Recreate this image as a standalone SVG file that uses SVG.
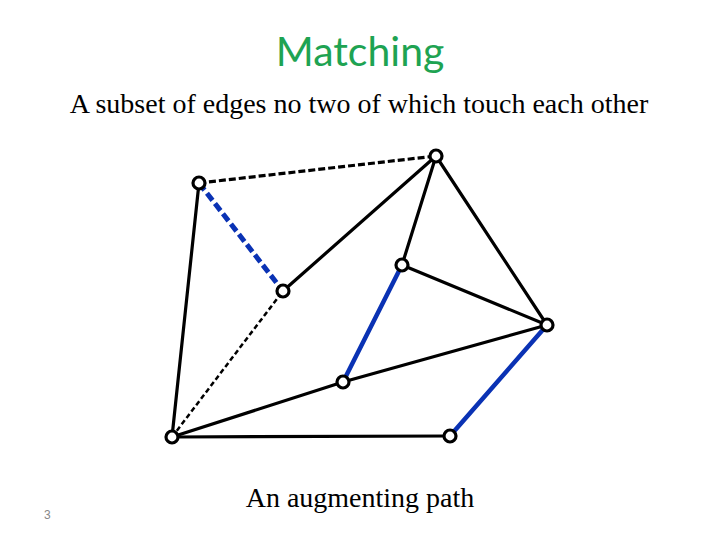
<svg xmlns="http://www.w3.org/2000/svg" width="720" height="540" viewBox="0 0 720 540">
<style>
.e{stroke:#000;stroke-width:3.2;fill:none;stroke-linecap:round}
.d{stroke-dasharray:7 3;stroke-linecap:butt}
.d2{stroke-dasharray:5 3;stroke-width:2.5;stroke-linecap:butt}
.b{stroke:#0a32b4;stroke-width:4.5}
.bd{stroke:#0a32b4;stroke-width:5;stroke-dasharray:9 4;stroke-linecap:butt}
.n{fill:#fff;stroke:#000;stroke-width:3.2}
.t{font-family:"Liberation Serif",serif;font-size:28px;fill:#000;text-anchor:middle}
</style>
<rect width="720" height="540" fill="#fff"/>
<text x="360" y="66" font-family="Lato,'Open Sans',sans-serif" font-size="41" fill="#1ea352" text-anchor="middle">Matching</text>
<text class="t" x="359" y="113">A subset of edges no two of which touch each other</text>
<text class="t" x="360" y="507">An augmenting path</text>
<text x="44" y="519" font-family="'Liberation Sans',sans-serif" font-size="12" fill="#888">3</text>
<g id="edges">
<line class="e d" x1="199" y1="183" x2="436" y2="156"/>
<line class="e bd" x1="199" y1="183" x2="283" y2="291"/>
<line class="e" x1="199" y1="183" x2="172" y2="437"/>
<line class="e" x1="436" y1="156" x2="283" y2="291"/>
<line class="e" x1="436" y1="156" x2="402" y2="265"/>
<line class="e" x1="436" y1="156" x2="547" y2="325"/>
<line class="e" x1="402" y1="265" x2="547" y2="325"/>
<line class="e b" x1="402" y1="265" x2="343" y2="382"/>
<line class="e" x1="343" y1="382" x2="547" y2="325"/>
<line class="e" x1="172" y1="437" x2="343" y2="382"/>
<line class="e d2" x1="172" y1="437" x2="283" y2="291"/>
<line class="e" x1="172" y1="437" x2="450" y2="436"/>
<line class="e b" x1="547" y1="325" x2="450" y2="436"/>
</g>
<g id="nA"><circle class="n" cx="199" cy="183" r="6"/></g>
<g id="nB"><circle class="n" cx="436" cy="156" r="6"/></g>
<g id="nC"><circle class="n" cx="283" cy="291" r="6"/></g>
<g id="nD"><circle class="n" cx="402" cy="265" r="6"/></g>
<g id="nE"><circle class="n" cx="547" cy="325" r="6"/></g>
<g id="nF"><circle class="n" cx="343" cy="382" r="6"/></g>
<g id="nG"><circle class="n" cx="172" cy="437" r="6"/></g>
<g id="nH"><circle class="n" cx="450" cy="436" r="6"/></g>
</svg>
